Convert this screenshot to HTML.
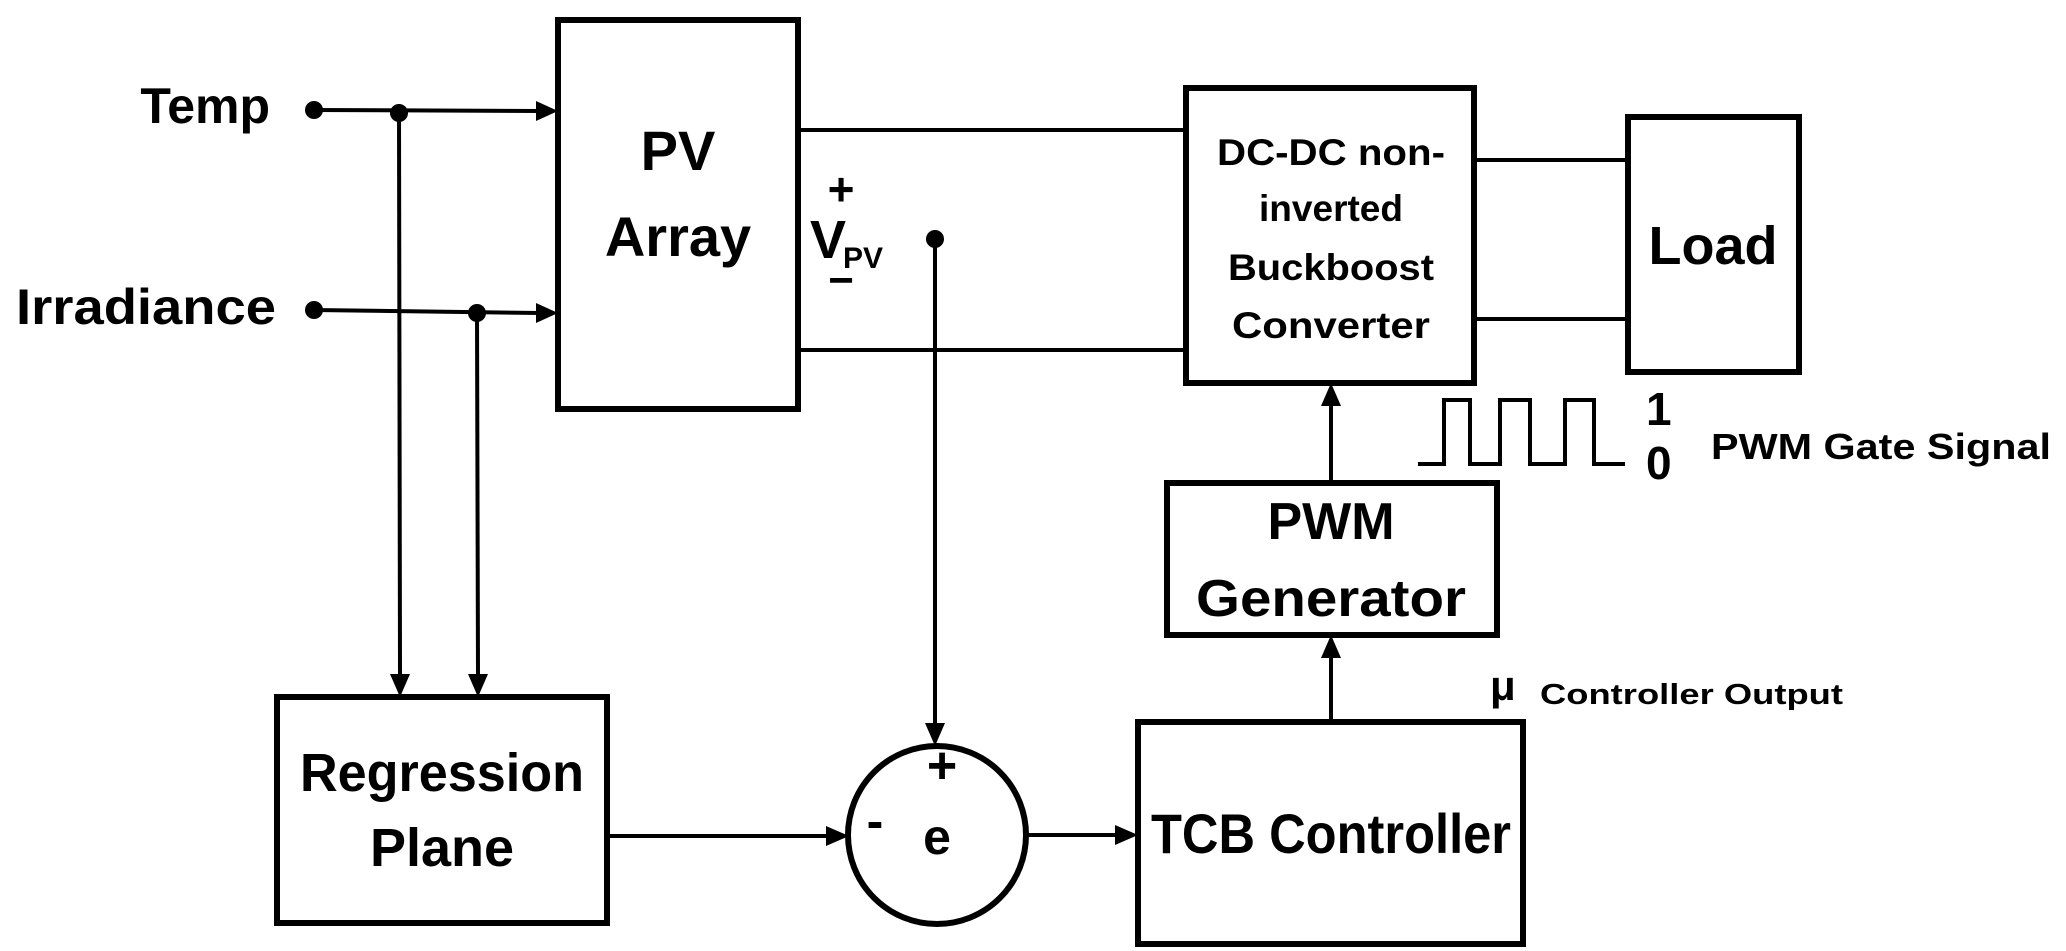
<!DOCTYPE html>
<html><head><meta charset="utf-8"><style>
html,body{margin:0;padding:0;background:#fff;}
svg{display:block;}
text{font-family:"Liberation Sans",sans-serif;fill:#000;font-weight:bold;}
</style></head><body>
<svg width="2066" height="951" viewBox="0 0 2066 951" xmlns="http://www.w3.org/2000/svg">
<g fill="none" stroke="#000" stroke-width="6">
<rect x="558" y="20" width="240" height="389"/>
<rect x="277" y="697" width="330" height="226"/>
<rect x="1186" y="88" width="288" height="295"/>
<rect x="1628" y="117" width="171" height="255"/>
<rect x="1167" y="483" width="330" height="152"/>
<rect x="1138" y="722" width="385" height="222"/>
<circle cx="937" cy="835" r="89"/>
</g>
<g fill="none" stroke="#000" stroke-width="4">
<line x1="314" y1="110" x2="540" y2="111"/>
<line x1="314" y1="310" x2="540" y2="313"/>
<line x1="399" y1="113" x2="400" y2="676"/>
<line x1="477" y1="313" x2="478" y2="676"/>
<line x1="798" y1="130" x2="1186" y2="130"/>
<line x1="798" y1="350" x2="1186" y2="350"/>
<line x1="1474" y1="160" x2="1628" y2="160"/>
<line x1="1474" y1="319" x2="1628" y2="319"/>
<line x1="935" y1="239" x2="935" y2="726"/>
<line x1="607" y1="836" x2="830" y2="836"/>
<line x1="1026" y1="835" x2="1120" y2="835"/>
<line x1="1331" y1="722" x2="1331" y2="655"/>
<line x1="1331" y1="483" x2="1331" y2="403"/>
<polyline points="1418,464 1444,464 1444,400 1470,400 1470,464 1500,464 1500,400 1530,400 1530,464 1565,464 1565,400 1594,400 1594,464 1625,464"/>
</g>
<g fill="#000">
<circle cx="314" cy="110" r="9"/><circle cx="399" cy="113" r="9"/>
<circle cx="314" cy="310" r="9"/><circle cx="477" cy="313" r="9"/>
<circle cx="935" cy="239" r="9"/>
<polygon points="558,111 536,101 536,121"/>
<polygon points="558,313 536,303 536,323"/>
<polygon points="400,697 390,674 410,674"/>
<polygon points="478,697 468,674 488,674"/>
<polygon points="935,746 925,723 945,723"/>
<polygon points="849,836 826,826 826,846"/>
<polygon points="1138,835 1115,825 1115,845"/>
<polygon points="1331,635 1321,658 1341,658"/>
<polygon points="1331,383 1321,406 1341,406"/>
</g>
<text x="270" y="123" font-size="50" text-anchor="end">Temp</text>
<text x="16" y="324" font-size="50" textLength="260" lengthAdjust="spacingAndGlyphs">Irradiance</text>
<text x="678" y="170" font-size="56" text-anchor="middle">PV</text>
<text x="678" y="256" font-size="56" text-anchor="middle">Array</text>
<text x="841" y="205" font-size="46" text-anchor="middle">+</text>
<text x="810" y="258" font-size="54">V</text>
<text x="843" y="268" font-size="30">PV</text>
<text x="841" y="295" font-size="44" text-anchor="middle">−</text>
<text x="442" y="791" font-size="54" text-anchor="middle" textLength="284" lengthAdjust="spacingAndGlyphs">Regression</text>
<text x="442" y="866" font-size="54" text-anchor="middle">Plane</text>
<text x="942" y="783" font-size="52" text-anchor="middle">+</text>
<text x="875" y="838" font-size="50" text-anchor="middle">-</text>
<text x="937" y="854" font-size="50" text-anchor="middle">e</text>
<text x="1331" y="165" font-size="37" text-anchor="middle" textLength="228" lengthAdjust="spacingAndGlyphs">DC-DC non-</text>
<text x="1331" y="221" font-size="37" text-anchor="middle">inverted</text>
<text x="1331" y="280" font-size="37" text-anchor="middle" textLength="206" lengthAdjust="spacingAndGlyphs">Buckboost</text>
<text x="1331" y="338" font-size="37" text-anchor="middle" textLength="198" lengthAdjust="spacingAndGlyphs">Converter</text>
<text x="1713" y="264" font-size="54" text-anchor="middle">Load</text>
<text x="1331" y="539" font-size="52" text-anchor="middle">PWM</text>
<text x="1331" y="616" font-size="52" text-anchor="middle" textLength="270" lengthAdjust="spacingAndGlyphs">Generator</text>
<text x="1331" y="853" font-size="56" text-anchor="middle" textLength="360" lengthAdjust="spacingAndGlyphs">TCB Controller</text>
<text x="1646" y="425" font-size="46">1</text>
<text x="1646" y="479" font-size="46">0</text>
<text x="1711" y="459" font-size="36" textLength="340" lengthAdjust="spacingAndGlyphs">PWM Gate Signal</text>
<text x="1490" y="700" font-size="42">μ</text>
<text x="1540" y="704" font-size="29" textLength="303" lengthAdjust="spacingAndGlyphs">Controller Output</text>
</svg>
</body></html>
